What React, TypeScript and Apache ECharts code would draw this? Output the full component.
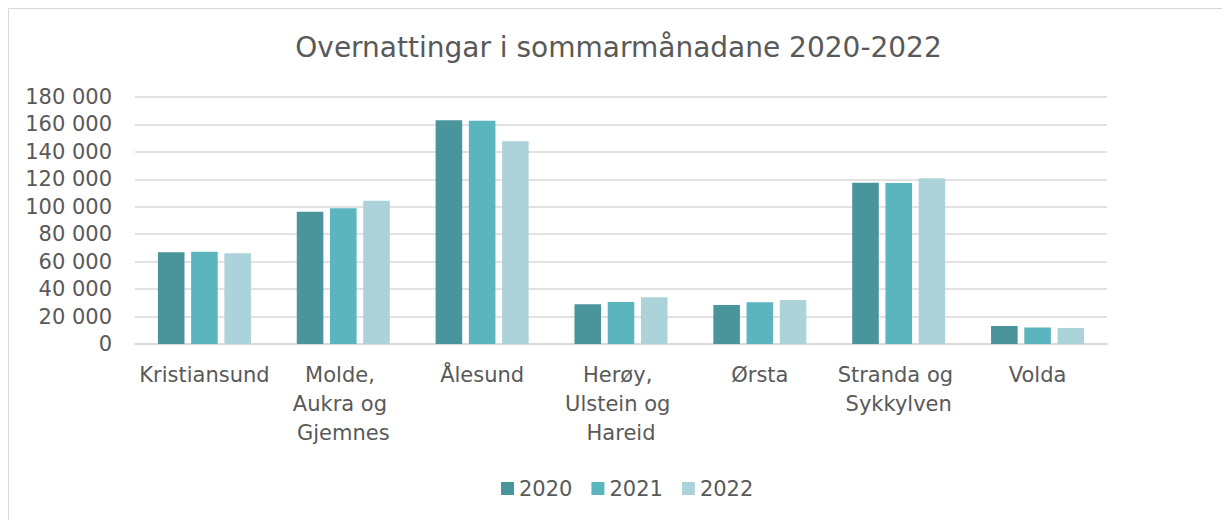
import React, { useEffect, useRef } from "react";
import * as echarts from "echarts";

const categories = [
  "Kristiansund",
  "Molde, Aukra og Gjemnes",
  "Ålesund",
  "Herøy, Ulstein og Hareid",
  "Ørsta",
  "Stranda og Sykkylven",
  "Volda",
];
const seriesNames = ["2020", "2021", "2022"];
const values2020 = [66800, 96400, 163000, 28900, 28400, 117600, 13100];
const values2021 = [67300, 98900, 162700, 30600, 30400, 117300, 12100];
const values2022 = [66100, 104400, 147700, 34000, 32100, 120700, 11700];
const colors = ["#4A959B", "#5AB5BF", "#ADD3DA"];
const titleText = "Overnattingar i sommarmånadane 2020-2022";

const FONT = "DejaVu Sans";
const TEXT = "#595959";

export default function App() {
  const ref = useRef<HTMLDivElement>(null);
  useEffect(() => {
    if (!ref.current) return;
    const chart = echarts.init(ref.current, null, { renderer: "svg" });
    const data = [values2020, values2021, values2022];
    chart.setOption({
      animation: false,
      backgroundColor: "#ffffff",
      title: {
        text: titleText,
        left: "center",
        top: 19,
        textStyle: { fontFamily: FONT, fontSize: 28, fontWeight: "normal", color: TEXT },
      },
      legend: {
        data: seriesNames,
        left: 487,
        top: 464,
        itemWidth: 13,
        itemHeight: 13,
        itemGap: 19,
        icon: "rect",
        textStyle: { fontFamily: FONT, fontSize: 21, color: TEXT },
      },
      grid: { left: 126, right: 121, top: 88, height: 247, containLabel: false },
      xAxis: {
        type: "category",
        data: categories,
        axisLine: { show: true, lineStyle: { color: "#d9d9d9", width: 1.5 } },
        axisTick: { show: false },
        axisLabel: {
          fontFamily: FONT,
          fontSize: 21,
          color: TEXT,
          margin: 16,
          lineHeight: 29,
          width: 136,
          overflow: "break",
          interval: 0,
        },
      },
      yAxis: {
        type: "value",
        min: 0,
        max: 180000,
        interval: 20000,
        axisLine: { show: false },
        axisTick: { show: false },
        splitLine: { lineStyle: { color: "#d9d9d9", width: 1.5 } },
        axisLabel: {
          fontFamily: FONT,
          fontSize: 21,
          color: TEXT,
          margin: 23,
          formatter: (v: number) => String(v).replace(/\B(?=(\d{3})+(?!\d))/g, " "),
        },
      },
      series: seriesNames.map((name, i) => ({
        name,
        type: "bar",
        data: data[i],
        barGap: "25%",
        barCategoryGap: "33%",
        itemStyle: { color: colors[i] },
      })),
    });
    return () => chart.dispose();
  }, []);
  return (
    <div
      ref={ref}
      style={{
        width: 1221,
        height: 520,
        border: "1px solid #d9d9d9",
        boxSizing: "border-box",
        background: "#fff",
      }}
    />
  );
}
